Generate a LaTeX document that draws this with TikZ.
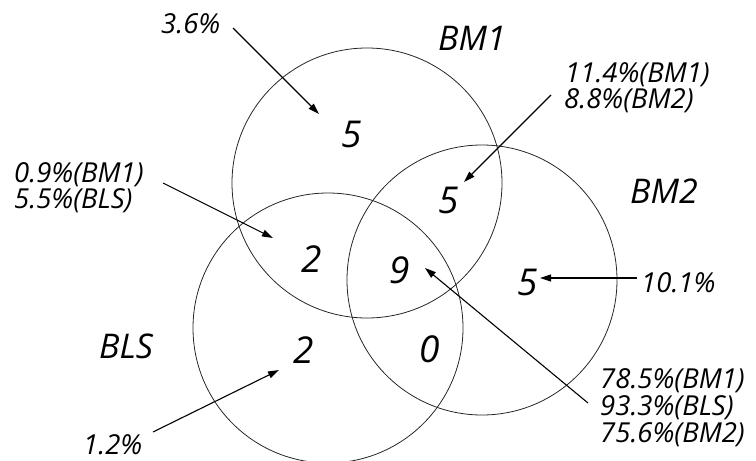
\documentclass[tikz,border=0pt]{standalone}
\usepackage{fontspec}
\setmainfont{Open Sans}
\usetikzlibrary{arrows.meta}
\begin{document}
\begin{tikzpicture}[x=1pt,y=-1pt,
  setc/.style={draw=black!85,line width=0.8pt},
  pct/.style={font=\fontsize{27.5}{28}\selectfont\itshape,inner sep=0pt,anchor=base west},
  setname/.style={font=\fontsize{34}{34}\selectfont\itshape,inner sep=0pt,anchor=base west},
  num/.style={font=\fontsize{37}{37}\selectfont\itshape,inner sep=0pt,anchor=base},
  arr/.style={line width=1.1pt,-{Triangle[length=11pt,width=7pt]}}]
\useasboundingbox (0,0) rectangle (756,461);
% circles
\draw[setc] (367,183) circle (135);
\draw[setc] (482,280) circle (135);
\draw[setc] (328,328) circle (135);
% set names
\node[setname] (nbm1) at (438,50) {BM1};
\node[setname] (nbm2) at (630,203) {BM2};
\node[setname] (nbls) at (99,358) {BLS};
% region counts
\node[num] (c1) at (352,147) {5};
\node[num] (c12) at (449,213) {5};
\node[num] (c13) at (312,272) {2};
\node[num] (c123) at (400,283) {9};
\node[num] (c2) at (528,295) {5};
\node[num] (c3) at (304,363) {2};
\node[num] (c23) at (430,362) {0};
% percentage labels
\node[pct] (p1) at (161,33) {3.6\%};
\node[pct] (p13a) at (14,182) {0.9\%(BM1)};
\node[pct] (p13b) at (14,208) {5.5\%(BLS)};
\node[pct] (p12a) at (565,82) {11.4\%(BM1)};
\node[pct] (p12b) at (564,108) {8.8\%(BM2)};
\node[pct] (p2) at (641,292) {10.1\%};
\node[pct] (p3) at (83,454) {1.2\%};
\node[pct] (p123a) at (600,388) {78.5\%(BM1)};
\node[pct] (p123b) at (600,415) {93.3\%(BLS)};
\node[pct] (p123c) at (600,442) {75.6\%(BM2)};
% arrow ends
\coordinate (t1) at (233,28);   \coordinate (h1) at (319,114);
\coordinate (t13) at (163,183); \coordinate (h13) at (273,238);
\coordinate (t12) at (551,95);  \coordinate (h12) at (464,182);
\coordinate (t2) at (637,278);  \coordinate (h2) at (540,278);
\coordinate (t3) at (153,432);  \coordinate (h3) at (279,370);
\coordinate (t123) at (588,403); \coordinate (h123) at (425,268);
\draw[arr] (t1) -- (h1);
\draw[arr] (t13) -- (h13);
\draw[arr] (t12) -- (h12);
\draw[arr] (t2) -- (h2);
\draw[arr] (t3) -- (h3);
\draw[arr] (t123) -- (h123);
\end{tikzpicture}
\end{document}
